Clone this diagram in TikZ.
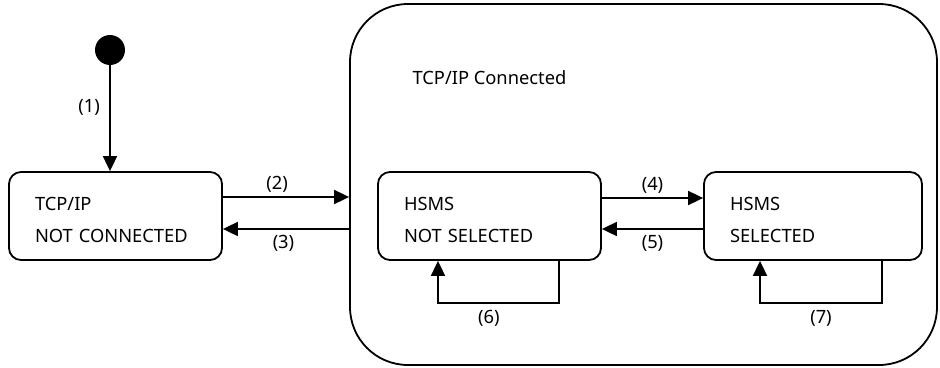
\documentclass[tikz,border=0pt]{standalone}
\usepackage{fontspec}
\setmainfont{Noto Sans}
\usetikzlibrary{positioning}
\usetikzlibrary{arrows.meta}

\tikzset{
  state/.style={draw, line width=1.8pt, rounded corners=12pt, minimum height=88pt,
    inner xsep=26pt, text height=22pt, align=left, font=\fontsize{18.3}{32}\selectfont},
  trans/.style={-{Triangle[length=15pt,width=14pt]}, line width=1.8pt},
  lbl/.style={font=\fontsize{18.3}{22}\selectfont}
}

\begin{document}
\begin{tikzpicture}[x=1pt,y=-1pt]
  \useasboundingbox (0,0) rectangle (940,367);

  \node[draw, line width=1.8pt, rounded corners=58pt, minimum width=587pt,
    minimum height=361pt] (conn) at (643.5,184.5) {};
  \node[lbl, anchor=west] (conntitle) at (409,78) {TCP/IP Connected};

  \node[circle, fill, minimum size=30pt, inner sep=0pt] (init) at (110,50) {};
  \node[state, text width=161pt] (nc) at (115.5,216) {TCP/IP\\NOT CONNECTED};
  \node[state, text width=171pt] (ns) at (489.5,216) {HSMS\\NOT SELECTED};
  \node[state, text width=166pt] (sel) at (813,216) {HSMS\\SELECTED};

  \draw[trans] (init) -- node[lbl, left=6pt, pos=0.4] (l1) {(1)} (init |- nc.north);
  \draw[trans] ([yshift=19pt]nc.east) -- node[lbl, above, pos=0.43] (l2) {(2)}
    ([yshift=19pt]nc.east -| conn.west);
  \draw[trans] ([yshift=-13pt]nc.east -| conn.west) -- node[lbl, below=2pt, pos=0.52] (l3) {(3)}
    ([yshift=-13pt]nc.east);
  \draw[trans] ([yshift=18pt]ns.east) -- node[lbl, above] (l4) {(4)} ([yshift=18pt]sel.west);
  \draw[trans] ([yshift=-13pt]sel.west) -- node[lbl, below=2pt] (l5) {(5)} ([yshift=-13pt]ns.east);

  \draw[trans] ([xshift=69.5pt]ns.south) -- ++(0,-42pt)
    -- node[lbl, below=3pt, pos=0.58] (l6) {(6)} ([xshift=-51.5pt,yshift=-42pt]ns.south)
    -- ([xshift=-51.5pt]ns.south);
  \draw[trans] ([xshift=69pt]sel.south) -- ++(0,-42pt)
    -- node[lbl, below=3pt] (l7) {(7)} ([xshift=-53pt,yshift=-42pt]sel.south)
    -- ([xshift=-53pt]sel.south);
\end{tikzpicture}
\end{document}
